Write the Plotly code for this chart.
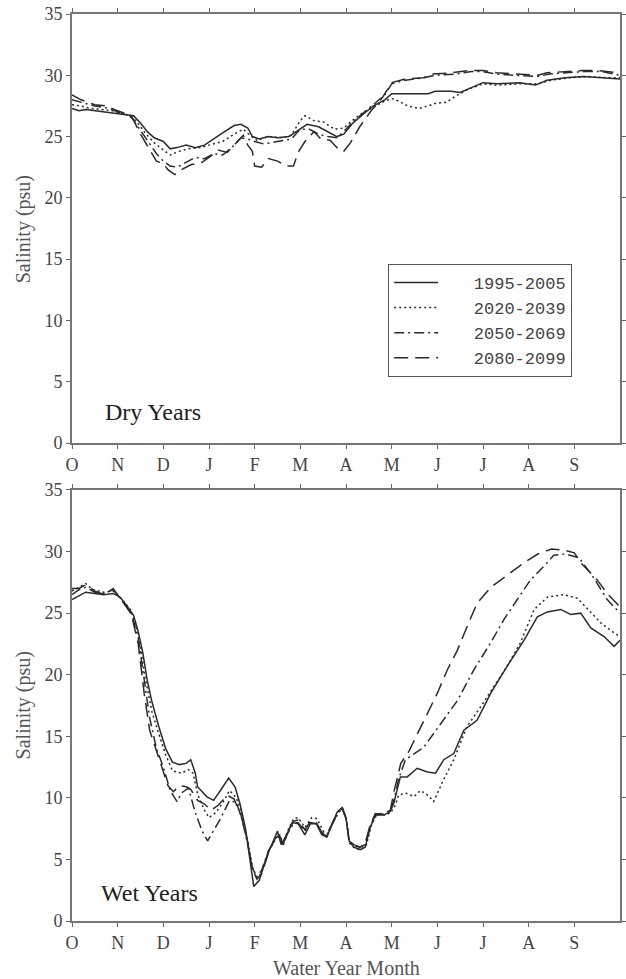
import plotly.graph_objects as go

MONTH_LABELS = ["O", "N", "D", "J", "F", "M", "A", "M", "J", "J", "A", "S"]
MONTH_TICKS = list(range(12))
SAL_TICKS = [0, 5, 10, 15, 20, 25, 30, 35]
PERIODS = ["1995-2005", "2020-2039", "2050-2069", "2080-2099"]

# ---------------- Dry years (month index within water year, salinity psu)
dry_x_1995 = [0, 0.15, 0.3, 0.5, 0.8, 1.0, 1.2, 1.35, 1.5, 1.65, 1.8, 2.0, 2.15, 2.3, 2.5, 2.7, 2.9, 3.05, 3.3, 3.55, 3.7, 3.85, 3.95, 4.1, 4.3, 4.5, 4.75, 4.95, 5.15, 5.4, 5.6, 5.8, 5.95, 6.15, 6.4, 6.6, 6.85, 7.0, 7.4, 7.8, 7.95, 8.3, 8.5, 8.75, 9.0, 9.3, 9.8, 10.15, 10.4, 10.8, 11.2, 11.6, 12.0]
dry_y_1995 = [27.3, 27.1, 27.2, 27.1, 27.0, 26.9, 26.8, 26.7, 26.1, 25.4, 24.9, 24.6, 24.0, 24.1, 24.3, 24.1, 24.3, 24.7, 25.3, 25.9, 26.0, 25.7, 25.0, 24.8, 25.0, 24.9, 25.0, 25.5, 26.0, 25.8, 25.4, 25.0, 25.2, 26.1, 26.9, 27.5, 28.0, 28.5, 28.5, 28.5, 28.7, 28.7, 28.6, 29.0, 29.4, 29.3, 29.4, 29.2, 29.6, 29.8, 29.9, 29.8, 29.7]

dry_x_2020 = [0, 0.2, 0.4, 0.6, 0.9, 1.2, 1.4, 1.6, 1.8, 2.0, 2.15, 2.35, 2.55, 2.8, 3.0, 3.3, 3.55, 3.75, 3.9, 4.05, 4.3, 4.6, 4.8, 5.0, 5.1, 5.3, 5.5, 5.75, 5.95, 6.1, 6.35, 6.6, 6.85, 7.0, 7.15, 7.35, 7.6, 7.8, 7.95, 8.2, 8.4, 8.7, 9.0, 9.3, 9.8, 10.2, 10.5, 10.9, 11.3, 11.7, 12.0]
dry_y_2020 = [27.6, 27.5, 27.3, 27.2, 27.1, 26.8, 26.3, 25.3, 24.5, 23.9, 23.5, 23.8, 24.0, 24.1, 24.3, 24.6, 25.2, 25.6, 25.1, 24.7, 25.0, 24.9, 25.1, 26.3, 26.7, 26.3, 26.2, 25.6, 25.7, 26.2, 26.9, 27.4, 27.9, 28.1, 27.9, 27.5, 27.3, 27.5, 27.7, 27.8, 28.3, 28.9, 29.3, 29.2, 29.3, 29.3, 29.6, 29.8, 29.9, 29.8, 29.8]

dry_x_2050 = [0, 0.2, 0.5, 0.8, 1.0, 1.3, 1.5, 1.7, 1.85, 2.0, 2.15, 2.3, 2.5, 2.7, 2.9, 3.1, 3.3, 3.5, 3.7, 3.85, 4.0, 4.2, 4.5, 4.8, 5.0, 5.2, 5.4, 5.6, 5.8, 5.95, 6.15, 6.4, 6.6, 6.85, 7.0, 7.3, 7.7, 7.95, 8.4, 8.75, 9.0, 9.3, 9.7, 10.2, 10.45, 10.8, 11.2, 11.6, 12.0]
dry_y_2050 = [28.0, 27.8, 27.5, 27.3, 27.0, 26.6, 25.5, 24.4, 23.6, 23.0, 22.6, 22.5, 22.9, 23.3, 23.2, 23.6, 23.5, 24.1, 24.9, 24.8, 24.6, 24.4, 24.6, 24.8, 25.6, 25.6, 25.2, 25.0, 24.9, 25.4, 26.2, 27.0, 27.6, 28.4, 29.3, 29.6, 29.8, 30.0, 30.1, 30.3, 30.3, 30.1, 30.0, 29.9, 30.1, 30.2, 30.3, 30.3, 30.0]

dry_x_2080 = [0, 0.2, 0.5, 0.75, 1.0, 1.3, 1.5, 1.7, 1.85, 2.0, 2.1, 2.25, 2.4, 2.6, 2.85, 3.0, 3.2, 3.4, 3.6, 3.75, 3.85, 3.95, 4.0, 4.15, 4.3, 4.5, 4.7, 4.85, 4.95, 5.1, 5.3, 5.45, 5.65, 5.85, 5.95, 6.1, 6.3, 6.55, 6.8, 7.0, 7.3, 7.7, 7.9, 8.3, 8.7, 9.0, 9.3, 9.75, 10.2, 10.4, 10.8, 11.2, 11.5, 11.8, 12.0]
dry_y_2080 = [28.4, 28.0, 27.6, 27.5, 27.1, 26.7, 25.2, 23.9, 23.0, 22.8, 22.3, 21.9, 22.3, 22.7, 22.9, 23.3, 23.9, 23.7, 24.5, 25.1, 24.3, 23.8, 22.6, 22.5, 23.2, 23.0, 22.6, 22.6, 23.7, 24.6, 25.4, 24.8, 24.7, 23.9, 23.8, 24.5, 25.8, 27.1, 28.2, 29.4, 29.7, 29.8, 30.1, 30.2, 30.4, 30.4, 30.2, 30.1, 30.0, 30.2, 30.3, 30.4, 30.4, 30.3, 30.2]

# ---------------- Wet years
wet_x_1995 = [0, 0.15, 0.3, 0.5, 0.7, 0.9, 1.05, 1.2, 1.35, 1.45, 1.55, 1.65, 1.75, 1.9, 2.05, 2.2, 2.35, 2.5, 2.6, 2.7, 2.75, 2.95, 3.1, 3.25, 3.43, 3.57, 3.68, 3.8, 3.9, 3.98, 4.1, 4.27, 4.42, 4.5, 4.58, 4.7, 4.82, 4.95, 5.1, 5.22, 5.35, 5.47, 5.58, 5.69, 5.8, 5.91, 6.0, 6.07, 6.17, 6.31, 6.42, 6.53, 6.64, 6.83, 6.97, 7.05, 7.12, 7.19, 7.34, 7.56, 7.78, 7.96, 8.14, 8.36, 8.58, 8.87, 9.17, 9.53, 9.9, 10.19, 10.41, 10.7, 10.92, 11.14, 11.36, 11.65, 11.87, 12.0]
wet_y_1995 = [26.1, 26.4, 26.7, 26.6, 26.5, 26.6, 26.3, 25.6, 24.8, 23.5, 21.8, 19.5, 17.8, 15.8, 14.0, 12.9, 12.7, 12.8, 13.1, 12.0, 10.9, 10.1, 9.8, 10.6, 11.6, 10.9, 9.5, 7.5, 5.0, 2.8, 3.3, 5.3, 6.6, 7.3, 6.2, 7.0, 8.0, 7.9, 7.0, 7.9, 7.9, 7.0, 6.8, 7.8, 8.8, 9.2, 8.4, 6.5, 6.0, 5.8, 6.0, 7.6, 8.6, 8.6, 8.9, 9.6, 10.6, 11.7, 11.7, 12.4, 12.1, 12.0, 13.1, 13.6, 15.5, 16.3, 18.5, 20.7, 22.8, 24.7, 25.1, 25.3, 24.9, 25.0, 23.8, 23.1, 22.3, 22.8]

wet_x_2020 = [0, 0.15, 0.3, 0.45, 0.7, 0.9, 1.1, 1.3, 1.45, 1.6, 1.75, 1.9, 2.05, 2.2, 2.4, 2.55, 2.65, 2.75, 2.9, 3.0, 3.15, 3.3, 3.45, 3.6, 3.72, 3.85, 3.95, 4.05, 4.15, 4.3, 4.45, 4.55, 4.62, 4.72, 4.85, 4.95, 5.1, 5.25, 5.37, 5.5, 5.6, 5.72, 5.85, 5.93, 6.0, 6.08, 6.2, 6.33, 6.45, 6.55, 6.68, 6.85, 6.98, 7.08, 7.15, 7.3, 7.49, 7.63, 7.8, 7.92, 8.14, 8.36, 8.65, 8.95, 9.24, 9.53, 9.82, 10.12, 10.41, 10.77, 11.07, 11.29, 11.58, 11.87, 12.0]
wet_y_2020 = [26.8, 27.1, 27.4, 26.9, 26.7, 26.8, 26.1, 25.2, 23.4, 19.8, 17.0, 15.2, 13.5, 12.2, 12.0, 12.3, 12.0, 10.3, 9.0, 8.4, 8.8, 9.6, 10.6, 10.0, 8.7, 6.5, 4.4, 3.5, 3.9, 5.6, 6.8, 7.0, 6.3, 7.3, 8.3, 8.4, 7.6, 8.4, 8.3, 7.3, 7.1, 8.0, 8.9, 9.1, 8.3, 6.3, 5.9, 5.8, 6.2, 7.7, 8.7, 8.6, 8.8, 9.4, 10.2, 10.4, 10.1, 10.6, 10.2, 9.7, 11.5, 13.1, 15.8, 17.4, 19.1, 20.7, 22.6, 25.3, 26.3, 26.5, 26.2, 25.3, 24.2, 23.4, 23.1]

wet_x_2050 = [0, 0.15, 0.3, 0.5, 0.7, 0.9, 1.1, 1.3, 1.45, 1.58, 1.7, 1.85, 2.0, 2.15, 2.3, 2.4, 2.55, 2.7, 2.85, 2.97, 3.1, 3.25, 3.45, 3.6, 3.72, 3.85, 3.95, 4.05, 4.15, 4.3, 4.45, 4.55, 4.62, 4.72, 4.85, 4.95, 5.1, 5.22, 5.35, 5.47, 5.58, 5.7, 5.82, 5.92, 6.0, 6.07, 6.17, 6.31, 6.42, 6.53, 6.64, 6.83, 6.97, 7.05, 7.15, 7.3, 7.5, 7.7, 8.07, 8.44, 8.8, 9.17, 9.46, 9.75, 10.04, 10.33, 10.55, 10.8, 11.1, 11.4, 11.72, 12.0]
wet_y_2050 = [26.5, 26.9, 27.1, 26.7, 26.6, 26.9, 26.0, 25.0, 23.0, 19.5, 16.5, 14.0, 12.5, 10.6, 9.7, 10.4, 10.8, 8.8, 7.3, 6.5, 7.3, 8.3, 9.8, 9.6, 8.3, 6.2, 4.3, 3.6, 4.1, 5.7, 6.6, 6.9, 6.1, 7.1, 7.9, 8.0, 7.3, 8.0, 7.9, 7.1, 6.9, 7.8, 8.8, 9.1, 8.3, 6.4, 6.1, 6.0, 6.2, 7.7, 8.6, 8.7, 9.0, 9.8, 11.5, 13.1, 13.6, 14.1, 16.0, 17.9, 20.4, 22.6, 24.5, 26.1, 27.7, 28.8, 29.7, 29.8, 29.5, 28.0, 26.1, 25.0]

wet_x_2080 = [0, 0.15, 0.3, 0.5, 0.7, 0.9, 1.1, 1.3, 1.45, 1.58, 1.7, 1.85, 2.0, 2.1, 2.22, 2.35, 2.5, 2.6, 2.75, 2.9, 3.05, 3.2, 3.4, 3.55, 3.7, 3.85, 3.95, 4.05, 4.15, 4.3, 4.45, 4.55, 4.62, 4.72, 4.85, 4.95, 5.1, 5.22, 5.35, 5.47, 5.58, 5.7, 5.82, 5.92, 6.0, 6.07, 6.17, 6.31, 6.42, 6.53, 6.64, 6.83, 6.97, 7.05, 7.2, 7.38, 7.56, 7.78, 8.0, 8.22, 8.44, 8.65, 8.87, 9.17, 9.53, 9.9, 10.2, 10.5, 10.8, 11.0, 11.14, 11.5, 11.72, 12.0]
wet_y_2080 = [27.0, 27.0, 27.3, 26.8, 26.5, 27.0, 26.0, 24.9, 22.5, 18.5, 15.5, 13.8, 12.0, 11.0, 10.5, 11.0, 10.9, 10.7, 9.8, 9.5, 9.0, 9.4, 10.2, 9.9, 8.6, 6.4, 4.2, 3.4, 3.8, 5.5, 6.7, 7.0, 6.2, 7.2, 8.1, 8.2, 7.4, 8.1, 8.0, 7.2, 7.0, 7.9, 8.9, 9.2, 8.4, 6.5, 6.2, 6.0, 6.3, 7.8, 8.7, 8.7, 9.0, 10.5, 12.8, 13.8, 15.2, 16.9, 18.5, 20.4, 22.0, 23.9, 25.8, 27.1, 28.1, 29.1, 29.8, 30.2, 30.1, 29.9, 29.1, 27.7, 26.6, 25.5]

LINE_COLOR = "#2b2b2b"
DASHES = ["solid", "2px,3px", "10px,4px,2px,4px", "14px,7px"]

fig = go.Figure()

dry = [(dry_x_1995, dry_y_1995), (dry_x_2020, dry_y_2020), (dry_x_2050, dry_y_2050), (dry_x_2080, dry_y_2080)]
wet = [(wet_x_1995, wet_y_1995), (wet_x_2020, wet_y_2020), (wet_x_2050, wet_y_2050), (wet_x_2080, wet_y_2080)]

NBSP = "\u00a0"
for i, (xs, ys) in enumerate(dry):
    fig.add_trace(go.Scatter(x=xs, y=ys, mode="lines", name=NBSP * 3 + PERIODS[i],
                             line=dict(color=LINE_COLOR, width=1.5, dash=DASHES[i]),
                             xaxis="x", yaxis="y", showlegend=True))
for i, (xs, ys) in enumerate(wet):
    fig.add_trace(go.Scatter(x=xs, y=ys, mode="lines", name=PERIODS[i],
                             line=dict(color=LINE_COLOR, width=1.5, dash=DASHES[i]),
                             xaxis="x2", yaxis="y2", showlegend=False))

TICK_FONT = dict(family="Liberation Serif", size=18, color="#444")
axis_common = dict(showgrid=False, zeroline=False, showline=True, linecolor="#777", linewidth=2,
                   mirror="ticks", ticks="outside", ticklen=4, tickcolor="#666", tickwidth=1,
                   tickfont=TICK_FONT)

xax = dict(range=[0, 12], tickvals=MONTH_TICKS, ticktext=MONTH_LABELS, **axis_common)
yax = dict(range=[0, 35], tickvals=SAL_TICKS, **axis_common)

fig.update_layout(
    width=626, height=979,
    margin=dict(l=72, r=0, t=14, b=58),
    paper_bgcolor="white", plot_bgcolor="white",
    xaxis=dict(domain=[0, 1], anchor="y", **xax),
    yaxis=dict(domain=[0.527, 1.0], anchor="x", **yax),
    xaxis2=dict(domain=[0, 1], anchor="y2", **xax),
    yaxis2=dict(domain=[0.0, 0.4752], anchor="x2", **yax),
    legend=dict(x=0.577, y=0.7245, xanchor="left", yanchor="top",
                bordercolor="#555", borderwidth=1, bgcolor="white",
                font=dict(family="Liberation Mono", size=17, color="#444"),
                itemwidth=44, tracegroupgap=0),
    showlegend=True,
    annotations=[
        dict(text="Dry Years", x=0.148, y=0.561, xref="paper", yref="paper",
             xanchor="center", yanchor="middle", showarrow=False,
             font=dict(family="Liberation Serif", size=24, color="#222")),
        dict(text="Wet Years", x=0.142, y=0.0314, xref="paper", yref="paper",
             xanchor="center", yanchor="middle", showarrow=False,
             font=dict(family="Liberation Serif", size=24, color="#222")),
        dict(text="Salinity (psu)", x=-0.0878, y=0.7625, xref="paper", yref="paper",
             xanchor="center", yanchor="middle", textangle=-90, showarrow=False,
             font=dict(family="Liberation Serif", size=20, color="#555")),
        dict(text="Salinity (psu)", x=-0.0878, y=0.2376, xref="paper", yref="paper",
             xanchor="center", yanchor="middle", textangle=-90, showarrow=False,
             font=dict(family="Liberation Serif", size=20, color="#555")),
        dict(text="Water Year Month", x=0.5, y=-0.0518, xref="paper", yref="paper",
             xanchor="center", yanchor="middle", showarrow=False,
             font=dict(family="Liberation Serif", size=20, color="#555")),
    ],
)

fig.write_html("out.html")
